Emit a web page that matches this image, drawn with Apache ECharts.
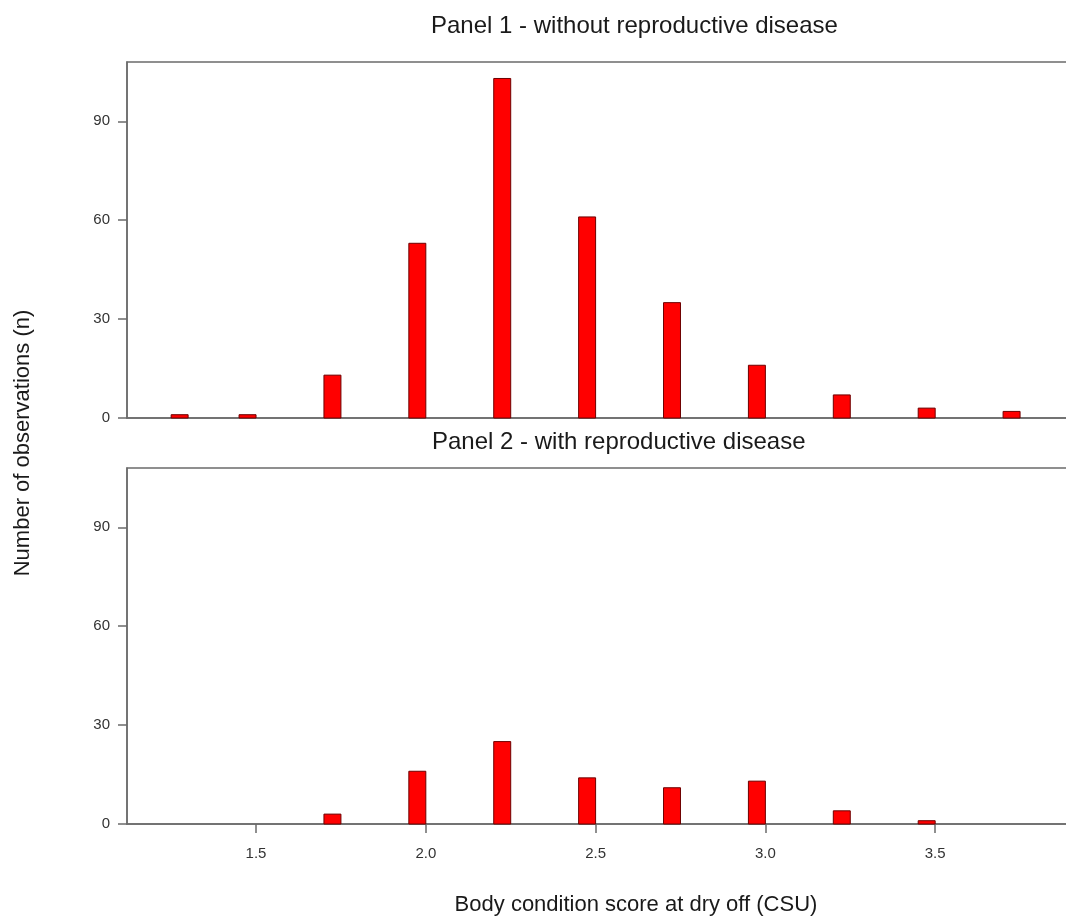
<!DOCTYPE html>
<html>
<head>
<meta charset="utf-8">
<script src="https://cdn.jsdelivr.net/npm/echarts@6/dist/echarts.min.js"></script>
<style>
  html, body { margin: 0; padding: 0; background: #fff; }
  #chart { width: 1066px; height: 921px; }
</style>
</head>
<body>
<div id="chart"></div>
<script>
// body condition score (bar right edge sits on the score)
const scores1 = [1.3, 1.5, 1.75, 2.0, 2.25, 2.5, 2.75, 3.0, 3.25, 3.5, 3.75];
const counts1 = [1, 1, 13, 53, 103, 61, 35, 16, 7, 3, 2];
const scores2 = [1.75, 2.0, 2.25, 2.5, 2.75, 3.0, 3.25, 3.5];
const counts2 = [3, 16, 25, 14, 11, 13, 4, 1];
const xTicks = [1.5, 2.0, 2.5, 3.0, 3.5];
const yTicks = [0, 30, 60, 90];

const font = 'Liberation Sans, Arial, sans-serif';
const lineColor = '#6b6b6b';
const barW = 0.05;

const chart = echarts.init(document.getElementById('chart'));

// rectangle from (x - barW) to x, drawn through the axis scales
const renderBar = (params, api) => {
  const x = api.value(0);
  const y = api.value(1);
  const topLeft = api.coord([x - barW, y]);
  const bottomRight = api.coord([x, 0]);
  return {
    type: 'rect',
    shape: {
      x: topLeft[0],
      y: topLeft[1],
      width: bottomRight[0] - topLeft[0],
      height: bottomRight[1] - topLeft[1],
    },
    style: { fill: '#ff0000', stroke: '#6e0000', lineWidth: 1 },
  };
};

const makeX = (gridIndex, withLabels) => ({
  type: 'value',
  gridIndex,
  min: 1.12,
  max: 3.9,
  splitLine: { show: false },
  axisLine: { show: true, lineStyle: { color: lineColor, width: 1.5 } },
  axisTick: {
    show: withLabels,
    length: 9,
    customValues: xTicks,
    lineStyle: { color: lineColor, width: 1.5 },
  },
  axisLabel: {
    show: withLabels,
    customValues: xTicks,
    margin: 22,
    fontSize: 15,
    fontFamily: font,
    color: '#333',
    formatter: v => v.toFixed(1),
  },
});

const makeY = gridIndex => ({
  type: 'value',
  gridIndex,
  min: 0,
  max: 108,
  splitLine: { show: false },
  axisLine: { show: true, lineStyle: { color: lineColor, width: 1.5 } },
  axisTick: {
    show: true,
    length: 9,
    customValues: yTicks,
    lineStyle: { color: lineColor, width: 1.5 },
  },
  axisLabel: {
    customValues: yTicks,
    margin: 17,
    fontSize: 15,
    fontFamily: font,
    color: '#333',
  },
});

const gridStyle = {
  left: 127,
  width: 944,
  height: 356,
  outerBoundsMode: 'none',
  show: true,
  borderColor: lineColor,
  borderWidth: 1.5,
};

const titleStyle = { fontSize: 24, fontWeight: 'normal', color: '#1a1a1a', fontFamily: font };

const option = {
  animation: false,
  backgroundColor: '#fff',
  title: [
    { text: 'Panel 1 - without reproductive disease', left: 426, top: 9, textStyle: titleStyle },
    { text: 'Panel 2 - with reproductive disease', left: 427, top: 425, textStyle: titleStyle },
  ],
  grid: [
    Object.assign({ top: 62 }, gridStyle),
    Object.assign({ top: 468 }, gridStyle),
  ],
  xAxis: [makeX(0, false), makeX(1, true)],
  yAxis: [makeY(0), makeY(1)],
  graphic: [
    {
      type: 'text',
      x: 636,
      y: 905,
      style: {
        text: 'Body condition score at dry off (CSU)',
        fontSize: 22,
        fontFamily: font,
        fill: '#1a1a1a',
        align: 'center',
        verticalAlign: 'middle',
      },
    },
    {
      type: 'text',
      x: 23,
      y: 443,
      rotation: Math.PI / 2,
      style: {
        text: 'Number of observations (n)',
        fontSize: 22,
        fontFamily: font,
        fill: '#1a1a1a',
        align: 'center',
        verticalAlign: 'middle',
      },
    },
  ],
  series: [
    {
      type: 'custom',
      xAxisIndex: 0,
      yAxisIndex: 0,
      renderItem: renderBar,
      data: scores1.map((s, i) => [s, counts1[i]]),
    },
    {
      type: 'custom',
      xAxisIndex: 1,
      yAxisIndex: 1,
      renderItem: renderBar,
      data: scores2.map((s, i) => [s, counts2[i]]),
    },
  ],
};

chart.setOption(option);
</script>
</body>
</html>
